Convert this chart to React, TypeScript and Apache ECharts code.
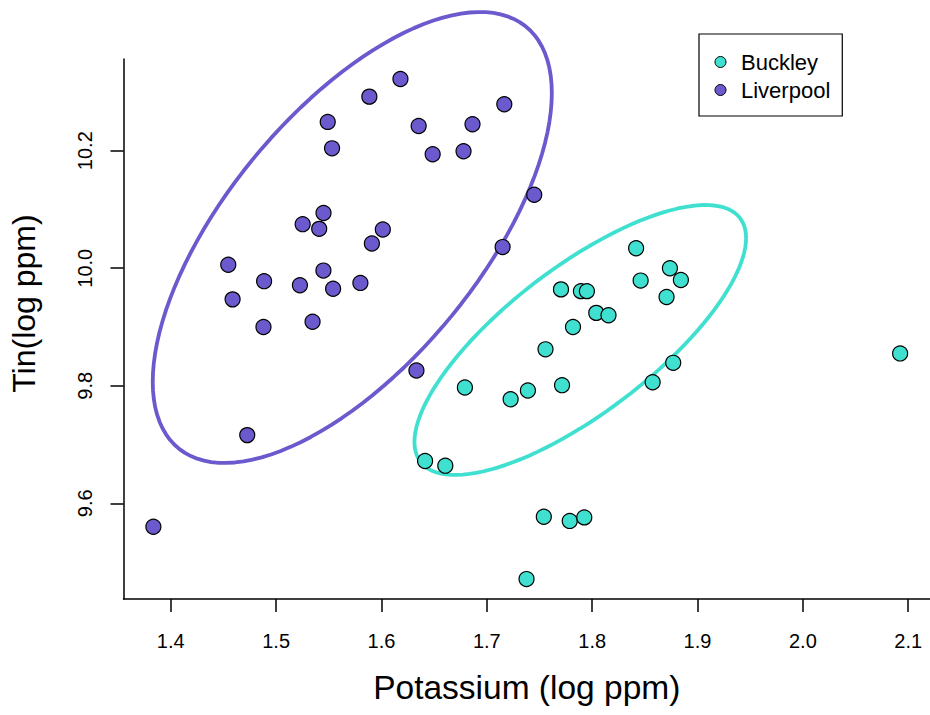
import React, { useEffect, useRef } from "react";
import * as echarts from "echarts";

// Potassium (log ppm) and Tin (log ppm) per site
const buckleyPotassium = [
  1.8417, 1.8738, 1.8842, 1.846, 1.8706, 1.7704, 1.7893, 1.795, 1.8039, 1.8155,
  1.7818, 1.7557, 1.6792, 1.739, 1.7226, 1.7714, 1.8769, 1.8574, 2.0923, 1.6414,
  1.6606, 1.7541, 1.7787, 1.7925, 1.7377,
];
const buckleyTin = [
  10.034, 10.0, 9.98, 9.979, 9.951, 9.964, 9.961, 9.961, 9.924, 9.92,
  9.9, 9.862, 9.797, 9.792, 9.777, 9.801, 9.839, 9.806, 9.855, 9.672,
  9.664, 9.577, 9.57, 9.576, 9.471,
];
const liverpoolPotassium = [
  1.618, 1.5885, 1.549, 1.5531, 1.6353, 1.6864, 1.7166, 1.6486, 1.6779, 1.745,
  1.715, 1.545, 1.5252, 1.5409, 1.6013, 1.5909, 1.4546, 1.4886, 1.5226, 1.5449,
  1.5541, 1.58, 1.4587, 1.488, 1.5346, 1.6332, 1.4726, 1.3835,
];
const liverpoolTin = [
  10.322, 10.292, 10.249, 10.204, 10.242, 10.245, 10.279, 10.194, 10.199, 10.125,
  10.036, 10.094, 10.075, 10.067, 10.066, 10.042, 10.006, 9.978, 9.971, 9.996,
  9.965, 9.975, 9.947, 9.9, 9.909, 9.826, 9.716, 9.56,
];
const xTicks = [1.4, 1.5, 1.6, 1.7, 1.8, 1.9, 2.0, 2.1];
const yTicks = [9.6, 9.8, 10.0, 10.2];
const seriesNames = ["Buckley", "Liverpool"];
const seriesColors = ["#40E0D0", "#6A5ACD"];
const xTitle = "Potassium (log ppm)";
const yTitle = "Tin(log ppm)";

// Group ellipses (data units): centre, x/y half-extent, correlation
const ellipseCenterX = [1.7887, 1.5723];
const ellipseCenterY = [9.8779, 10.0523];
const ellipseSpreadX = [0.1574, 0.1894];
const ellipseSpreadY = [0.2297, 0.3837];
const ellipseCorr = [0.755, 0.64];

const FONT = "'Liberation Sans', Arial, Helvetica, sans-serif";

function ellipsePath(cx: number, cy: number, sx: number, sy: number, r: number, segments = 120) {
  const q = Math.sqrt(1 - r * r);
  const pts: number[][] = [];
  for (let k = 0; k <= segments; k++) {
    const t = (2 * Math.PI * k) / segments;
    const c = Math.cos(t), s = Math.sin(t);
    pts.push([cx + sx * c, cy + sy * (r * c + q * s)]);
  }
  return pts;
}

function paddedRange(vals: number[]) {
  const lo = Math.min(...vals);
  const hi = Math.max(...vals);
  const e = (hi - lo) * 0.04;
  return [lo - e, hi + e];
}

export default function App() {
  const ref = useRef<HTMLDivElement>(null);
  useEffect(() => {
    if (!ref.current) return;
    const chart = echarts.init(ref.current, undefined, { renderer: "svg" });
    const groups = [
      { xs: buckleyPotassium, ys: buckleyTin },
      { xs: liverpoolPotassium, ys: liverpoolTin },
    ];
    const [xMin, xMax] = paddedRange([...buckleyPotassium, ...liverpoolPotassium]);
    const [yMin, yMax] = paddedRange([...buckleyTin, ...liverpoolTin]);

    const ellipseSeries = groups.map((_, i) => ({
      type: "line",
      name: seriesNames[i] + " ellipse",
      data: ellipsePath(ellipseCenterX[i], ellipseCenterY[i], ellipseSpreadX[i], ellipseSpreadY[i], ellipseCorr[i]),
      showSymbol: false,
      symbol: "none",
      clip: false,
      silent: true,
      z: 2,
      lineStyle: { color: seriesColors[i], width: 3.8 },
      emphasis: { disabled: true },
    }));
    const pointSeries = groups.map((g, i) => ({
      type: "scatter",
      name: seriesNames[i],
      data: g.xs.map((x, j) => [x, g.ys[j]]),
      symbol: "circle",
      symbolSize: 15,
      z: 3,
      itemStyle: { color: seriesColors[i], borderColor: "#000", borderWidth: 1.2, opacity: 1 },
      emphasis: { disabled: true },
    }));

    const axisLine = { show: true, lineStyle: { color: "#000", width: 1.5 } };
    chart.setOption({
      animation: false,
      backgroundColor: "#fff",
      grid: { left: 122.7, right: -3, top: 59, bottom: 115.9, containLabel: false },
      legend: {
        data: seriesNames,
        orient: "vertical",
        left: 699,
        top: 34,
        icon: "circle",
        itemWidth: 11,
        itemHeight: 11,
        itemGap: 6,
        padding: [17, 12, 15, 15.5],
        borderColor: "#000",
        borderWidth: 1.2,
        selectedMode: false,
        itemStyle: { borderColor: "#000", borderWidth: 1 },
        textStyle: { fontFamily: FONT, fontSize: 22, lineHeight: 22, color: "#000", padding: [0, 0, 0, 10] },
      },
      xAxis: {
        type: "value",
        min: xMin,
        max: xMax,
        name: xTitle,
        nameLocation: "middle",
        nameGap: 71.5,
        nameTextStyle: { fontFamily: FONT, fontSize: 33.5, lineHeight: 33.5, color: "#000" },
        axisLine,
        splitLine: { show: false },
        axisTick: { show: true, length: 13, lineStyle: { color: "#000", width: 1.5 }, customValues: xTicks },
        axisLabel: {
          customValues: xTicks,
          margin: 32,
          fontFamily: FONT,
          fontSize: 20,
          lineHeight: 20,
          color: "#000",
          formatter: (v: number) => v.toFixed(1),
        },
      },
      yAxis: {
        type: "value",
        min: yMin,
        max: yMax,
        name: yTitle,
        nameLocation: "middle",
        nameGap: 83.5,
        nameTextStyle: { fontFamily: FONT, fontSize: 32, lineHeight: 32, color: "#000", padding: [0, 0, 0, 51] },
        axisLine,
        splitLine: { show: false },
        axisTick: { show: true, length: 13, lineStyle: { color: "#000", width: 1.5 }, customValues: yTicks },
        axisLabel: {
          customValues: yTicks,
          rotate: 90,
          margin: 29,
          fontFamily: FONT,
          fontSize: 20,
          lineHeight: 20,
          color: "#000",
          formatter: (v: number) => v.toFixed(1),
        },
      },
      series: [...ellipseSeries, ...pointSeries],
    });
    return () => chart.dispose();
  }, []);
  return (
    <div
      ref={ref}
      style={{ position: "absolute", left: 0, top: 0, width: 930, height: 715, background: "#fff" }}
    />
  );
}
